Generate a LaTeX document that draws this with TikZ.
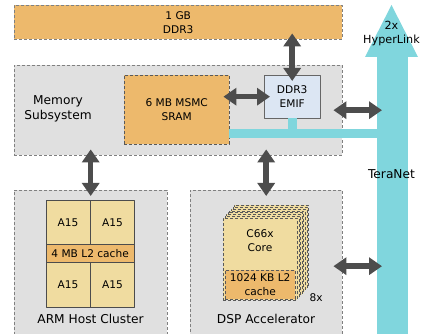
\documentclass[tikz,border=0pt]{standalone}
\usepackage{fontspec}
\setmainfont{DejaVu Sans}
\usetikzlibrary{arrows.meta}
\definecolor{orng}{HTML}{EDB96C}
\definecolor{corey}{HTML}{F0DCA0}
\definecolor{boxg}{HTML}{E0E0E0}
\definecolor{netc}{HTML}{80D6DD}
\definecolor{emifb}{HTML}{DCE6F3}
\definecolor{arrg}{HTML}{4D4D4D}
\begin{document}
\begin{tikzpicture}[x=1pt,y=-1pt,line join=round,
  big/.style={font=\fontsize{12.2}{15}\selectfont,align=center},
  small/.style={font=\fontsize{10.6}{14}\selectfont,align=center},
  blk/.style={draw=gray,densely dashed,fill=boxg,anchor=north west,inner sep=0pt},
  part/.style={draw=black!65,densely dashed,anchor=north west,inner sep=0pt,small},
  core/.style={draw=black!70,line width=0.8pt,fill=corey,anchor=north west,inner sep=0pt,small,minimum width=44pt,minimum height=44pt},
  dbl/.style={arrg,line width=5.5pt,{Triangle[width=17pt,length=13pt]}-{Triangle[width=17pt,length=13pt]},shorten <=-6pt,shorten >=-6pt},
  bus/.style={netc,line width=9pt}]
\useasboundingbox (0,0) rectangle (424,334);
\clip (0,0) rectangle (424,334);
% blocks
\node[blk,fill=orng,minimum width=328pt,minimum height=34pt,small] (ddr) at (14,5) {1 GB\\DDR3};
\node[blk,minimum width=328pt,minimum height=90pt] (mem) at (14,65) {};
\node[big] (memlbl) at (58,109) {Memory\\Subsystem};
\node[part,fill=orng,minimum width=105pt,minimum height=69pt] (msmc) at (124,75) {6 MB MSMC\\SRAM};
\node[part,draw=black!60,solid,fill=emifb,minimum width=56pt,minimum height=43pt] (emif) at (264,75) {DDR3\\EMIF};
\node[blk,minimum width=153pt,minimum height=152pt] (arm) at (14,190) {};
\node[blk,minimum width=152pt,minimum height=152pt] (dsp) at (190,190) {};
\node[big] (armlbl) at (90.5,319) {ARM Host Cluster};
\node[big] (dsplbl) at (266,319) {DSP Accelerator};
% A15 cores
\node[core] (a1) at (45.5,200) {A15};
\node[core] (a2) at (90,200) {A15};
\node[part,solid,draw=black!70,line width=0.8pt,fill=orng,minimum width=88.5pt,minimum height=18pt] (l2) at (45.5,244) {4 MB L2 cache};
\node[core,minimum height=45pt] (a3) at (45.5,262) {A15};
\node[core,minimum height=45pt] (a4) at (90,262) {A15};
% C66x stack
\foreach \i in {7,...,1}
  \node[part,fill=corey,minimum width=74pt,minimum height=82pt] at ({223+\i*1.6},{218-\i*1.85}) {};
\node[part,fill=corey,minimum width=74pt,minimum height=82pt] (c66) at (223,218) {};
\node[small] (c66lbl) at (260,240.5) {C66x\\Core};
\node[part,fill=orng,minimum width=70pt,minimum height=29pt] (dl2) at (225,270) {1024 KB L2\\cache};
\node[small,anchor=west] (nx) at (306,298) {8x};
% TeraNet
\node[fill=netc,anchor=north west,inner sep=0pt,minimum width=31pt,minimum height=290pt] (tn) at (377,57) {};
\fill[netc] (365,57) -- (391.5,5) -- (418,57) -- cycle;
\node[big,font=\fontsize{11.2}{14}\selectfont] (hl) at (391.5,34) {2x\\HyperLink};
\node[big] (tnlbl) at (391.5,174) {TeraNet};
\coordinate (bj) at (0,133.5);
\draw[bus] (emif.south) -- (emif.south |- bj);
\draw[bus] (msmc.east |- bj) -- (tn.west |- bj);
% arrows
\draw[dbl] (emif.north |- ddr.south) -- (emif.north);
\draw[dbl] (msmc.east |- emif.west) -- (emif.west);
\draw[dbl,shorten <=-9pt,shorten >=-5pt] (mem.east) -- (tn.west |- mem.east);
\draw[dbl,shorten <=-9pt,shorten >=-5pt] (dsp.east) -- (tn.west |- dsp.east);
\draw[dbl] (arm.north |- mem.south) -- (arm.north);
\draw[dbl] (dsp.north |- mem.south) -- (dsp.north);
\end{tikzpicture}
\end{document}
